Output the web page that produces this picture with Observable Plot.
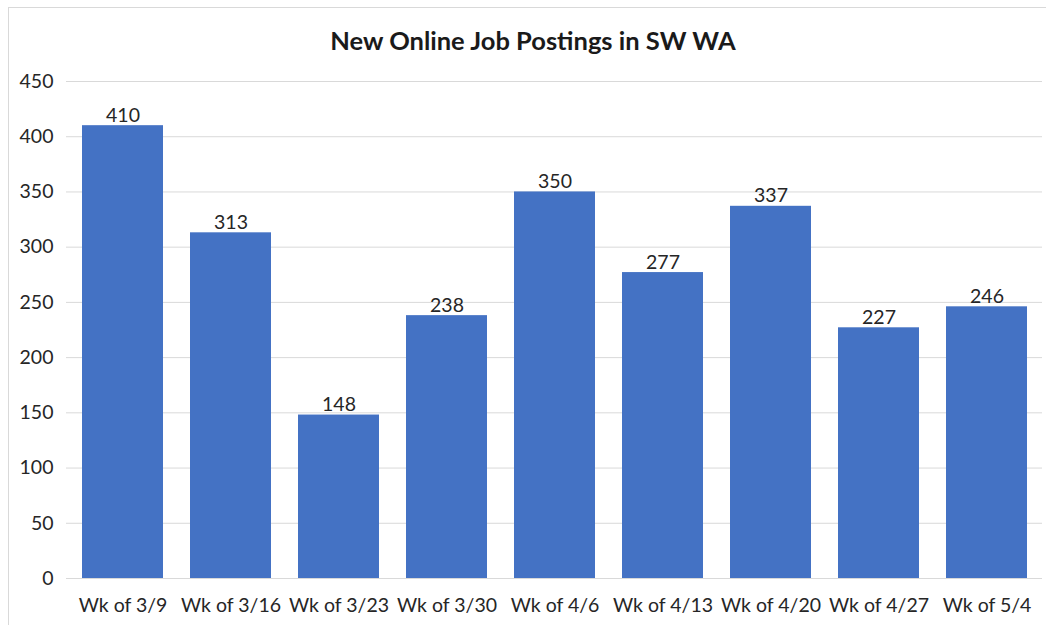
<!DOCTYPE html>
<html>
<head>
<meta charset="utf-8">
<script src="https://cdn.jsdelivr.net/npm/d3@7"></script>
<script src="https://cdn.jsdelivr.net/npm/@observablehq/plot@0.6"></script>
<style>
  html, body { margin: 0; padding: 0; background: #fff; }
  #wrap { position: relative; width: 1046px; height: 625px; overflow: hidden; background: #fff; font-family: Lato, "Open Sans", sans-serif; }
  #frame { position: absolute; left: 8px; top: 7px; width: 1100px; height: 700px; border: 1px solid #d9d9d9; box-sizing: border-box; }
  #title { position: absolute; left: 0; top: 24px; width: 1066px; text-align: center; font-size: 25.5px; font-weight: bold; color: #1a1a1a; line-height: 32px; }
  #chart { position: absolute; left: 0; top: 0; }
</style>
</head>
<body>
<div id="wrap">
  <div id="frame"></div>
  <div id="title">New Online Job Postings in SW WA</div>
  <div id="chart"></div>
</div>
<script>
const weeks = ["Wk of 3/9", "Wk of 3/16", "Wk of 3/23", "Wk of 3/30", "Wk of 4/6", "Wk of 4/13", "Wk of 4/20", "Wk of 4/27", "Wk of 5/4"];
const postings = [410, 313, 148, 238, 350, 277, 337, 227, 246];
const yTicks = [0, 50, 100, 150, 200, 250, 300, 350, 400, 450];

const data = weeks.map((w, i) => ({week: w, value: postings[i]}));

const chart = Plot.plot({
  width: 1046,
  height: 625,
  marginTop: 81,
  marginBottom: 47,
  marginLeft: 66,
  marginRight: 4,
  style: {fontFamily: "Lato, 'Open Sans', sans-serif", fontSize: "19px", color: "#262626", background: "transparent"},
  x: {domain: weeks, paddingInner: 0.25, paddingOuter: 0.125, label: null},
  y: {domain: [0, 450], label: null},
  marks: [
    Plot.gridY(yTicks, {stroke: "#d9d9d9", strokeOpacity: 1}),
    Plot.ruleX([0], {frameAnchor: "left", stroke: "#d9d9d9"}),
    Plot.barY(data, {x: "week", y: "value", fill: "#4472c4"}),
    Plot.text(data, {x: "week", y: "value", text: d => String(d.value), lineAnchor: "bottom", dy: -4, fontSize: 19.5, fill: "#262626"}),
    Plot.axisY(yTicks, {tickSize: 0, tickPadding: 13, fontSize: 19.5, fill: "#262626"}),
    Plot.axisX({tickSize: 0, tickPadding: 20, fontSize: 19.5, fill: "#262626"})
  ]
});
document.getElementById("chart").appendChild(chart);
</script>
</body>
</html>
